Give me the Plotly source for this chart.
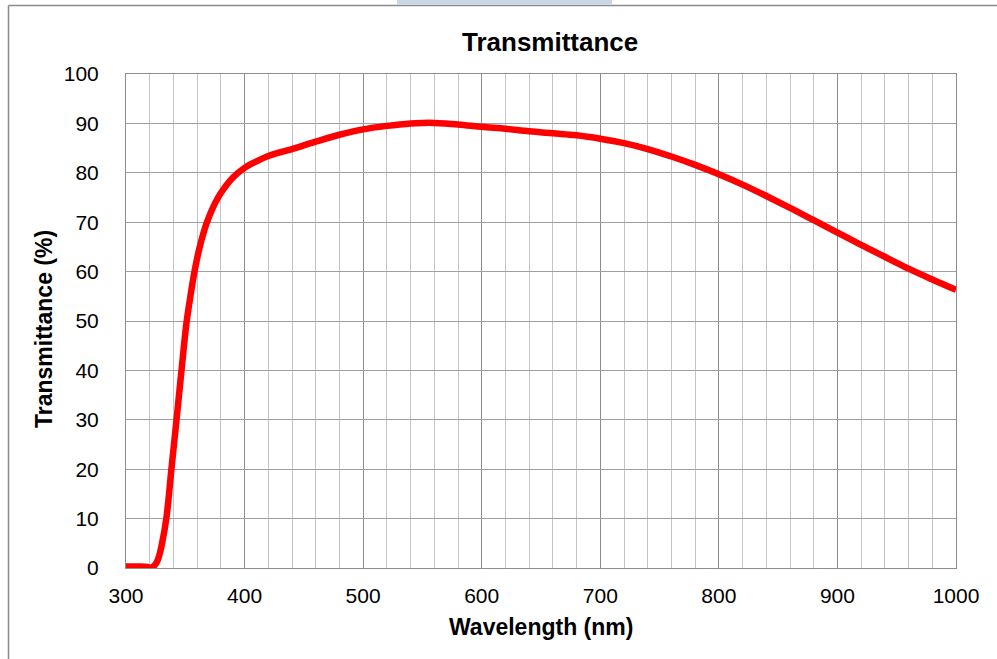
import plotly.graph_objects as go

# Data
wavelength_nm = [300, 310, 318, 320, 323, 326, 328, 330, 334, 338.3, 342.6, 346.8,
                 351, 354.5, 358, 362, 368, 375, 380, 390, 400, 410, 420, 440, 460,
                 480, 500, 520, 540, 550, 560, 580, 600, 620, 640, 660, 680, 700, 720,
                 740, 760, 780, 800, 820, 840, 860, 880, 900, 920, 940, 960, 980, 1000]
transmittance_pct = [0.3, 0.3, 0.2, 0.0, 0.3, 1.2, 2.5, 4.5, 10, 20, 30, 40,
                     49.6, 55.3, 60.3, 64.8, 69.8, 73.8, 75.9, 79.0, 81.0, 82.3, 83.4, 84.8, 86.3,
                     87.7, 88.8, 89.5, 90.0, 90.1, 90.1, 89.8, 89.3, 88.9, 88.4, 88.0, 87.6, 86.9, 86.0,
                     84.8, 83.3, 81.6, 79.7, 77.6, 75.3, 72.9, 70.4, 67.9, 65.4, 63.0, 60.6, 58.4, 56.3]

x_ticks = [300, 400, 500, 600, 700, 800, 900, 1000]
y_ticks = [0, 10, 20, 30, 40, 50, 60, 70, 80, 90, 100]

title_text = "Transmittance"
x_title = "Wavelength (nm)"
y_title = "Transmittance (%)"

FONT = "Liberation Sans, Arial, sans-serif"

fig = go.Figure()
fig.add_trace(go.Scatter(
    x=wavelength_nm, y=transmittance_pct, mode="lines",
    line=dict(color="#ff0000", width=6.5, shape="spline", smoothing=1.0),
    hoverinfo="x+y", showlegend=False,
))

L, R, T, B = 126, 41, 74, 91
W, H = 997, 659
pw, ph = W - L - R, H - T - B

def px(xp):
    return (xp - L) / pw

def py(yp):
    return (H - B - yp) / ph

fig.update_layout(
    width=W, height=H,
    margin=dict(l=L, r=R, t=T, b=B, autoexpand=False),
    paper_bgcolor="white", plot_bgcolor="white",
    font=dict(family=FONT, color="black", size=21),
    xaxis=dict(
        range=[300, 1000], tickvals=x_ticks, ticktext=[str(v) for v in x_ticks],
        showgrid=True, gridcolor="#8c8c8c", gridwidth=1,
        minor=dict(dtick=20, tick0=300, showgrid=True, gridcolor="#c4c4c4", gridwidth=1),
        showline=True, linecolor="#8c8c8c", linewidth=1, mirror=True,
        ticks="", ticklabelstandoff=9, zeroline=False,
        tickfont=dict(size=21, family=FONT, color="black"),
    ),
    yaxis=dict(
        range=[0, 100], tickvals=y_ticks, ticktext=[str(v) for v in y_ticks],
        showgrid=True, gridcolor="#a0a0a0", gridwidth=1,
        showline=True, linecolor="#8c8c8c", linewidth=1, mirror=True,
        ticks="", ticklabelstandoff=22, zeroline=False,
        tickfont=dict(size=21, family=FONT, color="black"),
    ),
    annotations=[
        dict(text="<b>" + title_text + "</b>", xref="paper", yref="paper",
             x=px(549.5), y=py(42), xanchor="center", yanchor="middle",
             showarrow=False, font=dict(size=26, family=FONT, color="black")),
        dict(text="<b>" + x_title + "</b>", xref="paper", yref="paper",
             x=px(540.5), y=py(627), xanchor="center", yanchor="middle",
             showarrow=False, font=dict(size=23, family=FONT, color="black")),
        dict(text="<b>" + y_title + "</b>", xref="paper", yref="paper",
             x=px(44), y=py(329), xanchor="center", yanchor="middle", textangle=-90,
             showarrow=False, font=dict(size=23, family=FONT, color="black")),
    ],
    shapes=[
        # outer frame (left and top edges)
        dict(type="line", xref="paper", yref="paper", x0=px(8.5), x1=px(8.5),
             y0=py(5.5), y1=py(660), line=dict(color="#8a8a8a", width=1.5)),
        dict(type="line", xref="paper", yref="paper", x0=px(8.5), x1=px(998),
             y0=py(5.5), y1=py(5.5), line=dict(color="#8a8a8a", width=1.5)),
        # light blue tab at top
        dict(type="rect", xref="paper", yref="paper", x0=px(397), x1=px(612),
             y0=py(4.5), y1=py(-1), line=dict(width=0), fillcolor="#c9d6e5"),
    ],
)

fig.write_html("out.html", config={"displayModeBar": False},
               post_script="document.body.style.margin='0px';document.body.style.overflow='hidden';")
